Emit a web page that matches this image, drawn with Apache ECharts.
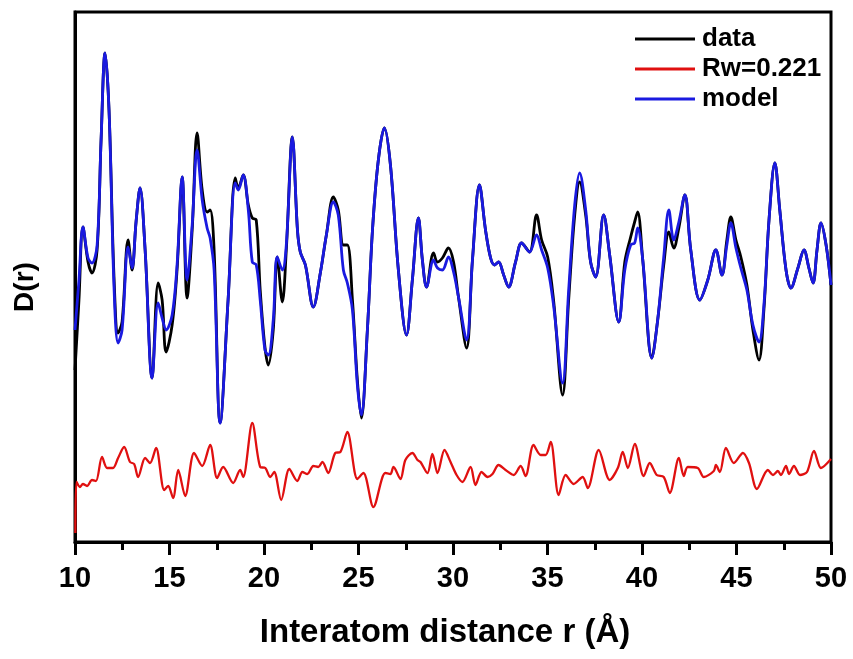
<!DOCTYPE html>
<html lang="en">
<head>
    <meta charset="UTF-8">
    <title>PDF fit</title>
    <script src="https://cdn.jsdelivr.net/npm/echarts@6/dist/echarts.min.js" type="text/javascript"></script>
</head>
<body style="margin:0;background:#fff;">
<div id="main" style="width: 853px; height: 659px;"></div>
<script>
    // r (Å) grid shared by data and model, D(r) in arbitrary units
    var rFit = [10.00,10.21,10.42,10.69,10.90,11.17,11.38,11.59,11.80,12.07,12.28,12.49,12.81,13.02,13.23,13.44,13.71,14.08,14.40,14.61,
        14.82,15.14,15.40,15.67,15.93,16.20,16.46,16.73,16.99,17.15,17.36,17.68,18.10,18.48,18.64,18.90,19.17,19.38,19.59,19.80,
        20.05,20.23,20.49,20.70,20.97,21.18,21.50,21.77,21.92,22.19,22.61,22.98,23.30,23.67,23.93,24.20,24.41,24.68,24.94,25.15,
        25.47,25.74,26.05,26.37,26.69,27.11,27.54,27.85,28.17,28.38,28.60,28.97,29.18,29.44,29.76,30.03,30.29,30.72,31.03,31.40,
        31.72,31.99,32.20,32.41,32.68,32.94,33.31,33.63,34.05,34.42,34.69,35.01,35.32,35.80,36.12,36.44,36.70,37.02,37.28,37.55,
        37.97,38.29,38.77,39.09,39.40,39.61,39.77,40.04,40.52,40.83,41.15,41.42,41.68,41.95,42.27,42.58,43.06,43.48,43.91,44.23,
        44.49,44.70,44.97,45.23,45.55,45.87,46.19,46.45,46.72,47.03,47.29,47.62,47.88,48.25,48.57,48.83,49.05,49.26,49.47,49.74,50.00];
    var dataD = [17.2,24.2,31.5,28.0,26.9,29.2,40.2,48.9,43.2,26.2,20.9,22.0,30.2,27.2,32.0,35.4,29.2,16.4,25.9,24.2,
        19.0,21.7,27.2,36.5,24.4,31.2,40.9,35.2,33.0,33.2,29.2,11.9,24.2,36.4,35.4,36.7,33.7,32.4,32.2,25.2,
        19.5,17.7,21.2,28.5,24.0,29.2,40.5,31.2,29.0,27.7,23.5,26.9,30.7,34.5,33.2,29.7,29.7,24.2,16.2,12.4,
        21.2,31.2,38.2,41.4,37.7,27.2,20.7,26.2,32.4,28.2,25.5,28.9,28.0,28.4,29.4,28.0,24.5,19.4,28.2,35.7,
        31.2,28.4,27.7,28.0,26.7,25.5,28.0,29.9,29.0,32.7,30.2,28.5,24.2,14.7,24.2,32.7,36.0,32.7,28.0,26.5,
        32.7,28.7,22.0,28.0,30.5,32.0,33.0,28.2,18.4,22.2,27.7,31.0,29.4,31.4,34.7,29.2,24.2,26.2,29.2,26.7,
        30.2,32.5,30.2,28.5,25.7,21.2,18.2,23.2,32.2,37.9,33.2,27.2,25.4,27.4,29.2,27.4,25.9,29.2,31.9,29.7,25.7];
    var modelD = [21.2,26.2,31.5,28.4,27.9,29.7,40.2,48.9,43.2,25.2,19.9,21.2,29.5,27.4,32.0,35.4,29.2,16.4,23.9,22.4,
        21.2,22.7,27.7,36.5,26.2,31.7,39.2,34.2,31.4,30.4,27.2,11.9,24.2,35.9,35.2,36.7,33.2,28.0,27.7,24.2,
        19.2,18.7,22.2,28.5,27.2,29.7,40.5,31.2,29.0,27.7,23.5,26.9,30.7,34.0,32.7,27.2,25.9,23.2,15.7,12.7,
        21.2,31.2,38.2,41.4,37.7,27.2,20.7,26.2,32.4,28.2,25.5,28.2,27.4,27.2,28.5,27.0,24.5,20.2,28.2,35.7,
        31.2,28.4,27.7,28.0,26.7,25.5,28.0,29.9,29.0,30.7,29.2,27.4,23.7,15.9,25.2,33.7,36.9,33.2,28.0,26.5,
        32.7,28.7,22.0,27.2,29.7,29.9,31.4,28.2,18.4,22.2,28.5,33.2,30.2,32.0,34.7,29.2,24.2,26.2,29.2,26.7,
        29.7,31.9,29.4,27.4,25.2,21.7,20.0,23.7,32.2,37.9,33.2,27.2,25.4,27.4,29.2,27.4,25.9,29.2,31.9,29.7,25.7];

    // difference curve, own r grid
    var rDiff = [10.02,10.08,10.26,10.42,10.64,10.90,11.11,11.43,11.70,12.01,12.28,12.60,12.91,13.13,13.34,13.71,13.97,14.29,14.72,14.93,
        15.19,15.46,15.83,16.30,16.73,17.15,17.52,17.84,18.37,18.74,18.90,19.38,19.80,20.07,20.33,20.54,20.91,21.34,21.76,22.03,
        22.29,22.61,22.87,23.09,23.40,23.77,24.04,24.41,24.94,25.26,25.79,26.42,26.69,26.85,27.22,27.48,27.85,28.12,28.28,28.65,
        28.91,29.18,29.55,29.87,30.19,30.50,30.93,31.19,31.51,31.83,32.09,32.41,32.78,33.21,33.58,33.84,34.26,34.64,34.90,35.17,
        35.59,35.96,36.38,36.86,37.13,37.71,38.29,38.72,38.98,39.25,39.62,40.09,40.41,40.78,41.15,41.47,41.95,42.21,42.42,42.95,
        43.27,43.80,43.91,44.12,44.44,44.86,45.34,45.66,46.08,46.66,46.93,47.19,47.35,47.62,47.78,48.04,48.36,48.73,49.10,49.47,50.00];
    var diffD = [0.9,6.0,5.5,5.8,5.6,6.2,6.1,8.5,7.4,7.4,8.4,9.5,8.0,7.8,6.5,8.4,7.9,9.4,5.2,5.6,
        4.4,7.2,4.6,8.9,7.6,9.7,6.4,7.5,5.9,7.2,6.5,11.9,7.5,7.4,6.5,7.0,4.2,7.3,6.1,7.0,
        6.8,7.6,7.5,8.0,6.9,8.9,9.0,11.0,6.3,6.9,3.5,6.9,6.8,7.5,6.3,8.2,8.9,8.2,8.0,6.9,
        8.8,6.9,9.2,8.0,6.7,6.0,7.5,5.7,7.0,6.5,6.8,7.7,7.2,6.7,7.6,6.6,9.7,8.7,8.7,10.0,
        4.7,6.7,5.8,6.5,5.4,9.2,6.2,7.4,9.0,7.4,9.8,6.6,7.9,6.7,6.5,4.9,8.4,6.6,7.5,7.4,
        6.5,7.1,7.7,7.0,9.4,7.9,8.9,7.9,5.3,7.2,6.7,7.1,6.7,7.6,6.8,7.6,6.7,7.0,9.1,7.4,8.3];

    var xTicks = [10, 15, 20, 25, 30, 35, 40, 45, 50];

    function pairs(xs, ys) {
        return xs.map(function (x, i) { return [x, ys[i]]; });
    }

    var myChart = echarts.init(document.getElementById('main'));
    var font = 'Liberation Sans, Arial, sans-serif';

    var option = {
        animation: false,
        backgroundColor: '#fff',
        grid: {
            left: 75, right: 22, top: 12, bottom: 117,
            show: true, borderColor: '#000', borderWidth: 3
        },
        legend: {
            orient: 'vertical',
            left: 630, top: 21,
            icon: 'rect',
            itemWidth: 60, itemHeight: 3, itemGap: 4,
            data: ['data', 'Rw=0.221', 'model'],
            textStyle: {fontFamily: font, fontWeight: 'bold', fontSize: 26, color: '#000', padding: [0, 0, 0, 2]}
        },
        xAxis: {
            type: 'value',
            min: xTicks[0], max: xTicks[xTicks.length - 1], interval: 5,
            name: 'Interatom distance r (Å)',
            nameLocation: 'middle', nameGap: 74,
            nameTextStyle: {fontFamily: font, fontWeight: 'bold', fontSize: 33, color: '#000', padding: [0, 16, 0, 0]},
            axisLine: {lineStyle: {color: '#000', width: 3}},
            axisTick: {inside: false, length: 13, lineStyle: {color: '#000', width: 3}},
            minorTick: {show: true, splitNumber: 2, length: 8, lineStyle: {color: '#000', width: 3}},
            axisLabel: {margin: 22, fontFamily: font, fontWeight: 'bold', fontSize: 29, color: '#000'},
            splitLine: {show: false}
        },
        yAxis: {
            type: 'value',
            min: 0, max: 53,
            name: 'D(r)',
            nameLocation: 'middle', nameGap: 36, nameRotate: 90,
            nameTextStyle: {fontFamily: font, fontWeight: 'bold', fontSize: 28, color: '#000', padding: [0, 20, 0, 0]},
            axisLine: {show: true, lineStyle: {color: '#000', width: 3}},
            axisTick: {show: false},
            axisLabel: {show: false},
            splitLine: {show: false}
        },
        series: [
            {
                name: 'data', type: 'line', data: pairs(rFit, dataD),
                smooth: 0.35, symbol: 'none',
                lineStyle: {color: '#000000', width: 2.8}, itemStyle: {color: '#000000'}
            },
            {
                name: 'Rw=0.221', type: 'line', data: pairs(rDiff, diffD),
                smooth: 0.3, symbol: 'none',
                lineStyle: {color: '#e01010', width: 2.3}, itemStyle: {color: '#e01010'}
            },
            {
                name: 'model', type: 'line', data: pairs(rFit, modelD),
                smooth: 0.35, symbol: 'none',
                lineStyle: {color: '#1a1ae0', width: 2.8}, itemStyle: {color: '#1a1ae0'}
            }
        ]
    };
    myChart.setOption(option);
</script>
</body>
</html>
